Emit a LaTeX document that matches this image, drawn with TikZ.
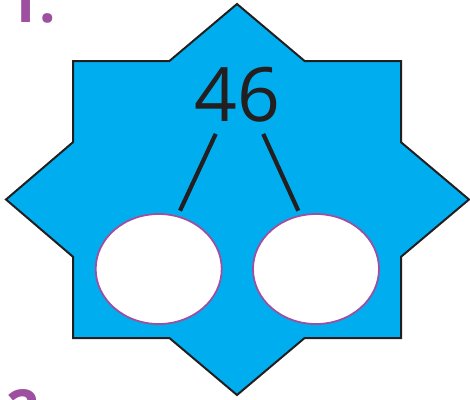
\documentclass[tikz,border=0pt]{standalone}
\usepackage{fontspec}
\setmainfont{Open Sans}
\usetikzlibrary{shapes.geometric, calc}
\definecolor{starcyan}{RGB}{0,174,239}
\definecolor{starink}{RGB}{35,31,32}
\definecolor{bondpurple}{RGB}{158,80,160}

\begin{document}
\begin{tikzpicture}[x=1pt, y=-1pt,
  star/.style={fill=starcyan, draw=starink, line width=2pt, line join=miter},
  part/.style={ellipse, draw=bondpurple, fill=white, line width=1.8pt,
    minimum width=126pt, minimum height=110pt, inner sep=0pt},
  whole/.style={inner sep=0pt, font=\fontsize{75}{80}\selectfont, text=starink},
  stem/.style={draw=starink, line width=4.2pt},
  qnum/.style={inner sep=0pt, font=\fontsize{58}{60}\selectfont\bfseries, text=bondpurple}
]
\useasboundingbox (0,0) rectangle (470,399);

% Question numbers
\node[qnum, anchor=base west] (q1) at (6,22) {1.};
\node[qnum, anchor=north west] (q2) at (6,389) {2.};

% Star: square and diamond overlapped
\draw[star] (237,4) -- (304.6,61) -- (401,61) -- (401,142.2) -- (469,199.5)
  -- (401,256.8) -- (401,338) -- (304.6,338) -- (237,395) -- (169.4,338)
  -- (73,338) -- (73,256.8) -- (6,199.5) -- (73,142.2) -- (73,61)
  -- (169.4,61) -- cycle;

% Number bond
\node[whole] (num) at (237,95) {46};
\node[part] (lpart) at (158.7,269) {};
\node[part] (rpart) at (316,269) {};

\draw[stem, shorten <=56.8pt, shorten >=64.3pt]
  ([xshift=2.7pt, yshift=12.6pt]num.center) -- ([xshift=-5.8pt]lpart.center);
\draw[stem, shorten <=56.7pt, shorten >=64.1pt]
  ([xshift=2.7pt, yshift=12.6pt]num.center) -- ([xshift=8.9pt]rpart.center);

\end{tikzpicture}
\end{document}
